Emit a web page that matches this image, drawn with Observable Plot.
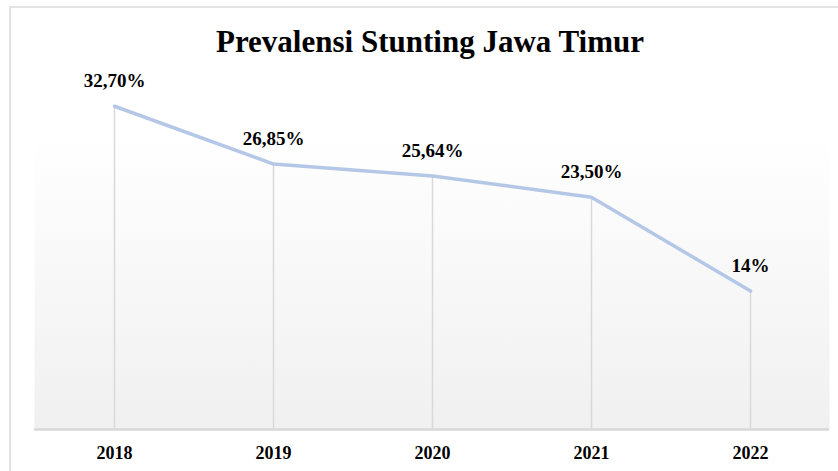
<!DOCTYPE html>
<html>
<head>
<meta charset="utf-8">
<script src="https://cdn.jsdelivr.net/npm/d3@7"></script>
<script src="https://cdn.jsdelivr.net/npm/@observablehq/plot@0.6"></script>
<style>
  html, body { margin: 0; padding: 0; background: #fff; }
  #wrap { position: relative; width: 838px; height: 471px; overflow: hidden; }
  #frame { position: absolute; left: 9px; top: 6px; width: 900px; height: 500px;
           border-left: 2px solid #e3e3e3; border-top: 2px solid #e3e3e3; box-sizing: border-box; }
  #title { position: relative; height: 38px; padding-top: 24px; text-align: center; padding-left: 22px;
           font-family: "Liberation Serif", "Times New Roman", serif; font-weight: bold; font-size: 31px;
           line-height: normal; color: #000; white-space: nowrap; }
  #chart { position: relative; }
  #chart svg { display: block; }
</style>
</head>
<body>
<div id="wrap">
  <div id="frame"></div>
  <div id="title">Prevalensi Stunting Jawa Timur</div>
  <div id="chart"></div>
</div>
<script>
const years = ["2018", "2019", "2020", "2021", "2022"];
const values = [32.70, 26.85, 25.64, 23.50, 14];
const labels = ["32,70%", "26,85%", "25,64%", "23,50%", "14%"];

const data = years.map((y, i) => ({year: y, value: values[i], label: labels[i]}));

const font = "'Liberation Serif', 'Times New Roman', serif";

const chart = Plot.plot({
  width: 838,
  height: 409,
  marginLeft: 34,
  marginRight: 9,
  marginTop: 21,
  marginBottom: 42,
  style: { fontFamily: font, background: "transparent", overflow: "visible" },
  x: { type: "point", domain: years, padding: 0.5 },
  y: { domain: [0, 35], axis: null },
  marks: [
    Plot.frame({ fill: "url(#bggrad)", stroke: "none" }),
    Plot.ruleX(data, { x: "year", y1: 0, y2: "value", stroke: "#d9d9d9", strokeWidth: 1.5 }),
    Plot.ruleY([0], { stroke: "#d9d9d9", strokeWidth: 2.5 }),
    Plot.line(data, { x: "year", y: "value", stroke: "#b4c7e7", strokeWidth: 3.5, strokeLinejoin: "round" }),
    Plot.text(data, { x: "year", y: "value", text: "label", dy: -25, fontSize: 19, fontWeight: "bold", fill: "#000", fontFamily: font }),
    Plot.axisX({ tickSize: 0, tickPadding: 17, fontSize: 18, fontWeight: "bold", fill: "#000", fontFamily: font, label: null })
  ]
});

// gradient definition for the plot area background
const ns = "http://www.w3.org/2000/svg";
const defs = document.createElementNS(ns, "defs");
const grad = document.createElementNS(ns, "linearGradient");
grad.setAttribute("id", "bggrad");
grad.setAttribute("x1", "0"); grad.setAttribute("y1", "0");
grad.setAttribute("x2", "0"); grad.setAttribute("y2", "1");
[["0", "#ffffff"], ["0.15", "#ffffff"], ["1", "#f0f0f0"]].forEach(([o, c]) => {
  const s = document.createElementNS(ns, "stop");
  s.setAttribute("offset", o); s.setAttribute("stop-color", c);
  grad.appendChild(s);
});
defs.appendChild(grad);
chart.insertBefore(defs, chart.firstChild);

document.getElementById("chart").appendChild(chart);
</script>
</body>
</html>
